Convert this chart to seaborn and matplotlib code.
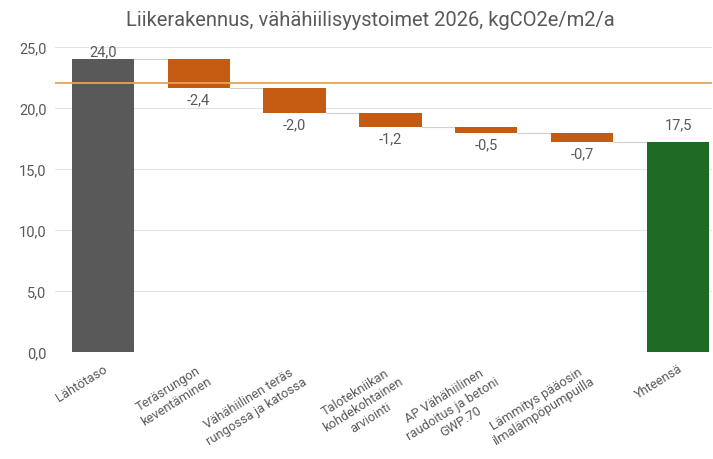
import numpy as np
import pandas as pd
import matplotlib
matplotlib.use("Agg")
import matplotlib.pyplot as plt
import seaborn as sns

# ----------------------------------------------------------
# data
# ----------------------------------------------------------
categories = ["Lähtötaso",
              "Teräsrungon\nkeventäminen",
              "Vähähiilinen teräs\nrungossa ja katossa",
              "Talotekniikan\nkohdekohtainen\narviointi",
              "AP Vähähiilinen\nraudoitus ja betoni\nGWP.70",
              "Lämmitys pääosin\nilmalämpöpumpuilla",
              "Yhteensä"]
start_value = 24.0
changes = [-2.4, -2.0, -1.2, -0.5, -0.7]
total_label = "17,5"          # label as printed in the source
target_line = 22.0
yticks = [0, 5, 10, 15, 20, 25]

grey, orange, green = "#595959", "#C55A11", "#1E6B24"
text_col = "#595959"

# ----------------------------------------------------------
# waterfall geometry
# ----------------------------------------------------------
levels = np.concatenate([[start_value], start_value + np.cumsum(changes)])
total_value = levels[-1]
bottoms = [0.0] + [levels[i + 1] for i in range(len(changes))] + [0.0]
heights = [start_value] + [-c for c in changes] + [total_value]
colors = [grey] + [orange] * len(changes) + [green]

df = pd.DataFrame({"cat": categories, "height": heights})

sns.set_theme(style="white")
plt.rcParams["font.family"] = ["Roboto", "DejaVu Sans"]

fig = plt.figure(figsize=(7.13, 4.60), dpi=100)
ax = fig.add_axes([0.077, 0.233, 0.921, 0.663])

sns.barplot(data=df, x="cat", y="height", order=categories, bottom=bottoms,
            width=0.65, color=grey, ax=ax, zorder=3, linewidth=0)
for p, c in zip(ax.patches, colors):
    p.set_facecolor(c)

# connectors between bars
w = 0.65
for i in range(len(categories) - 1):
    lvl = levels[i] if i < len(levels) else total_value
    ax.plot([i + w / 2, i + 1 - w / 2], [lvl, lvl], color="#D0D0D0", lw=0.8, zorder=2)

# target line
ax.axhline(target_line, color="#E8A25A", lw=1.3, zorder=4)

# value labels
ax.text(0, start_value + 0.05, f"{start_value:.1f}".replace(".", ","),
        ha="center", va="bottom", fontsize=10.5, color=text_col, zorder=5)
for i, c in enumerate(changes, start=1):
    ax.text(i, levels[i] - 0.35, f"{c:.1f}".replace(".", ","),
            ha="center", va="top", fontsize=10.5, color=text_col, zorder=5)
ax.text(len(categories) - 1, total_value + 0.9, total_label,
        ha="center", va="bottom", fontsize=10.5, color=text_col, zorder=5)

# axes styling
ax.set_ylim(0, 25)
ax.set_xlim(-0.5, 6.35)
ax.set_yticks(yticks)
ax.set_yticklabels([f"{v:.1f}".replace(".", ",") for v in yticks],
                   fontsize=10.5, color=text_col)
ax.yaxis.grid(True, color="#E3E3E3", lw=0.8, zorder=0)
ax.set_axisbelow(True)
for s in ax.spines.values():
    s.set_visible(False)
ax.tick_params(axis="both", length=0, pad=6)
ax.set_xlabel("")
ax.set_ylabel("")
ax.set_xticks(range(len(categories)))
ax.set_xticklabels(categories, rotation=32, ha="right", rotation_mode="anchor",
                   fontsize=9.3, color=text_col, multialignment="center",
                   linespacing=1.2)
ax.tick_params(axis="x", pad=7)

fig.text(0.52, 0.955, "Liikerakennus, vähähiilisyystoimet 2026, kgCO2e/m2/a",
         ha="center", va="center", fontsize=14.5, color=text_col)

fig.savefig("out.png", dpi=100)
